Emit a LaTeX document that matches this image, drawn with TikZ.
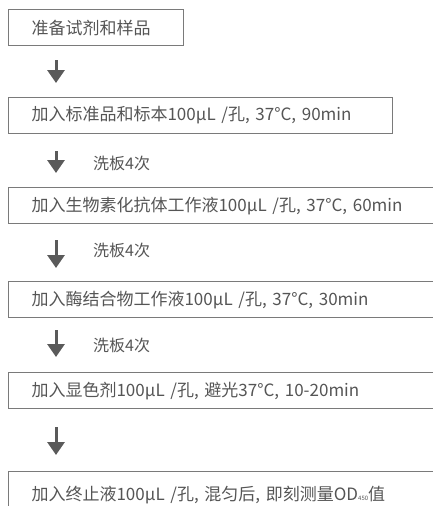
\documentclass[tikz,border=0pt]{standalone}
\usepackage{fontspec}
\setmainfont{Noto Sans CJK SC}
\usetikzlibrary{arrows.meta,calc}
\definecolor{txtgray}{HTML}{555555}
\definecolor{boxgray}{HTML}{7A7A7A}
\definecolor{arrgray}{HTML}{5A5A5A}
\tikzset{
  stepbox/.style={draw=boxgray, line width=1.1pt, rectangle, anchor=north west,
    minimum height=36pt, inner xsep=0pt, inner ysep=0pt, text=txtgray,
    font=\fontsize{17}{19}\selectfont},
  flowarrow/.style={draw=arrgray, line width=3pt,
    -{Triangle[width=17pt,length=13pt]}},
  washlabel/.style={anchor=west, text=txtgray, inner sep=0pt,
    font=\fontsize{16}{18}\selectfont}
}
\begin{document}
\begin{tikzpicture}[x=1pt,y=-1pt]
\useasboundingbox (0,0) rectangle (433,506);
\clip (0,0) rectangle (433,506);
\node[stepbox, minimum width=175pt, text width=175pt] (b1) at (8,9) {\hspace*{23pt}准备试剂和样品};
\node[stepbox, minimum width=384pt, text width=384pt] (b2) at (8,97) {\hspace*{23pt}加入标准品和标本100μL /孔, 37°C, 90min};
\node[stepbox, minimum width=440pt, text width=440pt] (b3) at (8,187) {\hspace*{23pt}加入生物素化抗体工作液100μL /孔, 37°C, 60min};
\node[stepbox, minimum width=440pt, text width=440pt] (b4) at (8,281) {\hspace*{23pt}加入酶结合物工作液100μL /孔, 37°C, 30min};
\node[stepbox, minimum width=440pt, text width=440pt] (b5) at (8,372) {\hspace*{23pt}加入显色剂100μL /孔, 避光37°C, 10-20min};
\node[stepbox, minimum width=440pt, text width=440pt, minimum height=50pt] (b6) at (8,471) {\raisebox{7pt}{\hspace*{23pt}加入终止液100μL /孔, 混匀后, 即刻测量OD{\fontsize{6}{6}\selectfont 450}值}};
\draw[flowarrow] ($(b1.south west)+(48,14)$) -- ($(b2.north west)+(48,-14)$);
\draw[flowarrow] ($(b2.south west)+(48,17)$) -- ($(b3.north west)+(48,-14)$);
\draw[flowarrow] ($(b3.south west)+(48,16)$) -- ($(b4.north west)+(48,-13)$);
\draw[flowarrow] ($(b4.south west)+(48,12)$) -- ($(b5.north west)+(48,-15)$);
\draw[flowarrow] ($(b5.south west)+(48,18)$) -- ($(b6.north west)+(48,-16)$);
\node[washlabel] (w1) at ($(b2.south west)+(85,29)$) {洗板4次};
\node[washlabel] (w2) at ($(b3.south west)+(85,26)$) {洗板4次};
\node[washlabel] (w3) at ($(b4.south west)+(85,27)$) {洗板4次};
\end{tikzpicture}
\end{document}
